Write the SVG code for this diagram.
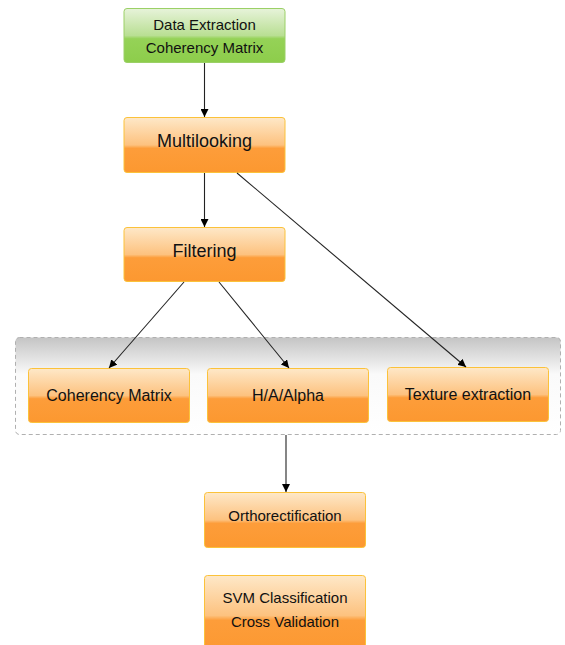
<svg xmlns="http://www.w3.org/2000/svg" width="565" height="645" viewBox="0 0 565 645">
<defs>
<linearGradient id="orange" x1="0" y1="0" x2="0" y2="1">
<stop offset="0" stop-color="#fee8c8"/>
<stop offset="0.5" stop-color="#fdc27f"/>
<stop offset="0.56" stop-color="#fd9d3a"/>
<stop offset="1" stop-color="#fc9830"/>
</linearGradient>
<linearGradient id="green" x1="0" y1="0" x2="0" y2="1">
<stop offset="0" stop-color="#e7f3da"/>
<stop offset="0.5" stop-color="#b9df93"/>
<stop offset="0.56" stop-color="#95d257"/>
<stop offset="1" stop-color="#8dcd4b"/>
</linearGradient>
<linearGradient id="gray" x1="0" y1="0" x2="0" y2="1">
<stop offset="0" stop-color="#c4c4c4"/>
<stop offset="0.38" stop-color="#fafafa"/>
<stop offset="1" stop-color="#ffffff"/>
</linearGradient>
<marker id="arr" viewBox="0 0 10 10" refX="10" refY="5" markerWidth="8" markerHeight="8" markerUnits="userSpaceOnUse" orient="auto">
<path d="M0,0 L10,5 L0,10 z" fill="#000"/>
</marker>
</defs>
<style>
.box{fill:url(#orange);stroke:#fbc23a;stroke-width:1}
.gbox{fill:url(#green);stroke:#9bd066;stroke-width:1}
text{font-family:"Liberation Sans",Arial,sans-serif;fill:#111;text-anchor:middle}
.t15{font-size:15px}
.t16{font-size:16px}
.t18{font-size:18px}
.c{fill:none;stroke:#222;stroke-width:1.1;marker-end:url(#arr)}
</style>
<rect width="565" height="645" fill="#fff"/>
<g id="container">
<rect x="15.5" y="337.5" width="545" height="97" rx="4" fill="url(#gray)" stroke="#b0b0b0" stroke-dasharray="4,3"/>
</g>
<g id="data-extraction">
<rect class="gbox" x="124" y="8.5" width="161" height="54" rx="3"/>
<text class="t15" x="204.5" y="29.5">Data Extraction</text>
<text class="t15" x="204.5" y="52.5">Coherency Matrix</text>
</g>
<g id="multilooking">
<rect class="box" x="124" y="117.5" width="161" height="55" rx="3"/>
<text class="t18" x="204.5" y="146.5">Multilooking</text>
</g>
<g id="filtering">
<rect class="box" x="124" y="227.5" width="161" height="54" rx="3"/>
<text class="t18" x="204.5" y="256.5">Filtering</text>
</g>
<g id="coherency-matrix">
<rect class="box" x="28.5" y="368.5" width="161" height="54" rx="3"/>
<text class="t16" x="109" y="401">Coherency Matrix</text>
</g>
<g id="haalpha">
<rect class="box" x="207.5" y="368.5" width="161" height="54" rx="3"/>
<text class="t16" x="288" y="401">H/A/Alpha</text>
</g>
<g id="texture">
<rect class="box" x="387.5" y="367.5" width="161" height="54" rx="3"/>
<text class="t16" x="468" y="400">Texture extraction</text>
</g>
<g id="orthorectification">
<rect class="box" x="204.5" y="492.5" width="161" height="55" rx="3"/>
<text class="t15" x="285" y="521">Orthorectification</text>
</g>
<g id="svm">
<rect class="box" x="204.5" y="575.5" width="161" height="80" rx="3"/>
<text class="t15" x="285" y="603">SVM Classification</text>
<text class="t15" x="285" y="627">Cross Validation</text>
</g>
<g id="connectors">
<line class="c" x1="204.5" y1="63" x2="204.5" y2="117"/>
<line class="c" x1="204.5" y1="173" x2="204.5" y2="227"/>
<line class="c" x1="237" y1="173" x2="466" y2="367"/>
<line class="c" x1="184" y1="282" x2="109" y2="368"/>
<line class="c" x1="219" y1="282" x2="289" y2="368"/>
<line class="c" x1="286" y1="435" x2="286" y2="492"/>
</g>
</svg>
